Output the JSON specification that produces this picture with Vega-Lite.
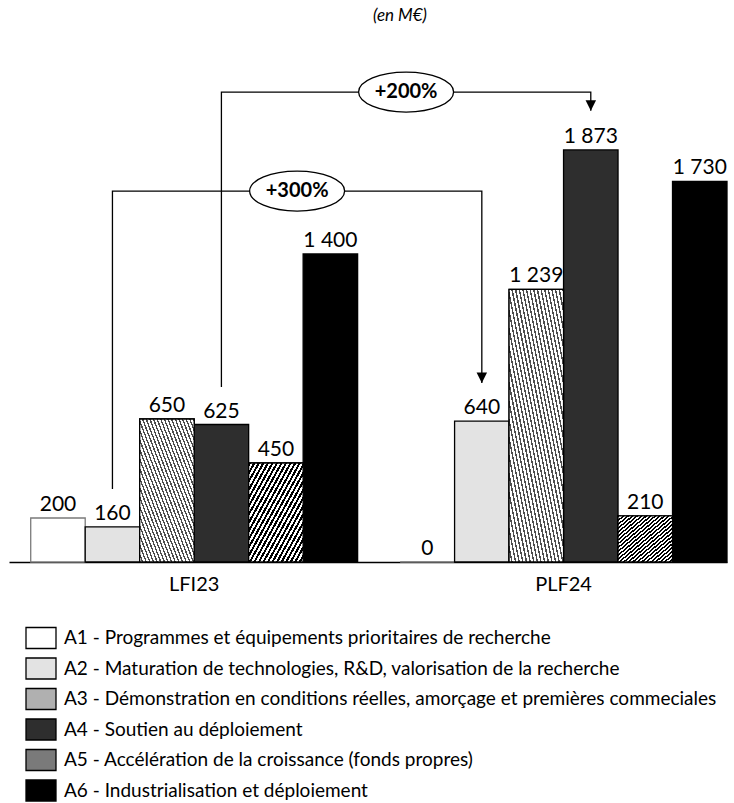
{
  "$schema": "https://vega.github.io/schema/vega-lite/v6.json",
  "autosize": {"type": "none"},
  "width": 718,
  "height": 528,
  "padding": {"left": 9, "top": 34, "right": 7, "bottom": 241},
  "background": "#ffffff",
  "title": {
    "text": "(en M€)",
    "font": "Lato",
    "fontSize": 17,
    "fontStyle": "italic",
    "fontWeight": "normal",
    "color": "#000000",
    "anchor": "middle",
    "dx": 32,
    "offset": 9
  },
  "datasets": {
    "bars": [
      {"group": "LFI23", "action": "A1 - Programmes et équipements prioritaires de recherche", "value": 200},
      {"group": "LFI23", "action": "A2 - Maturation de technologies, R&D, valorisation de la recherche", "value": 160},
      {"group": "LFI23", "action": "A3 - Démonstration en conditions réelles, amorçage et premières commeciales", "value": 650},
      {"group": "LFI23", "action": "A4 - Soutien au déploiement", "value": 625},
      {"group": "LFI23", "action": "A5 - Accélération de la croissance (fonds propres)", "value": 450},
      {"group": "LFI23", "action": "A6 - Industrialisation et déploiement", "value": 1400},
      {"group": "PLF24", "action": "A1 - Programmes et équipements prioritaires de recherche", "value": 0},
      {"group": "PLF24", "action": "A2 - Maturation de technologies, R&D, valorisation de la recherche", "value": 640},
      {"group": "PLF24", "action": "A3 - Démonstration en conditions réelles, amorçage et premières commeciales", "value": 1239},
      {"group": "PLF24", "action": "A4 - Soutien au déploiement", "value": 1873},
      {"group": "PLF24", "action": "A5 - Accélération de la croissance (fonds propres)", "value": 210},
      {"group": "PLF24", "action": "A6 - Industrialisation et déploiement", "value": 1730}
    ],
    "connectors": [
      {"link": "A2", "step": 1, "group": "LFI23", "action": "A2 - Maturation de technologies, R&D, valorisation de la recherche", "level": 332},
      {"link": "A2", "step": 2, "group": "LFI23", "action": "A2 - Maturation de technologies, R&D, valorisation de la recherche", "level": 1686},
      {"link": "A2", "step": 3, "group": "PLF24", "action": "A2 - Maturation de technologies, R&D, valorisation de la recherche", "level": 1686},
      {"link": "A2", "step": 4, "group": "PLF24", "action": "A2 - Maturation de technologies, R&D, valorisation de la recherche", "level": 814},
      {"link": "A4", "step": 1, "group": "LFI23", "action": "A4 - Soutien au déploiement", "level": 795},
      {"link": "A4", "step": 2, "group": "LFI23", "action": "A4 - Soutien au déploiement", "level": 2136},
      {"link": "A4", "step": 3, "group": "PLF24", "action": "A4 - Soutien au déploiement", "level": 2136},
      {"link": "A4", "step": 4, "group": "PLF24", "action": "A4 - Soutien au déploiement", "level": 2051}
    ],
    "arrows": [
      {"group": "PLF24", "action": "A2 - Maturation de technologies, R&D, valorisation de la recherche", "level": 814},
      {"group": "PLF24", "action": "A4 - Soutien au déploiement", "level": 2051}
    ],
    "growth": [
      {"group": "LFI23", "action": "A2 - Maturation de technologies, R&D, valorisation de la recherche", "level": 1686, "label": "+300%"},
      {"group": "LFI23", "action": "A4 - Soutien au déploiement", "level": 2136, "label": "+200%"}
    ]
  },
  "encoding": {
    "x": {
      "field": "group",
      "type": "nominal",
      "sort": ["LFI23", "PLF24"],
      "scale": {"paddingInner": 0.115, "paddingOuter": 0.0294, "align": 1},
      "axis": {
        "title": null,
        "labelAngle": 0,
        "labelFont": "Lato",
        "labelFontSize": 20,
        "labelColor": "#000000",
        "labelPadding": 12,
        "ticks": false,
        "domainColor": "#000000",
        "domainWidth": 1.3
      }
    }
  },
  "layer": [
    {
      "data": {"name": "bars"},
      "mark": {"type": "bar", "strokeWidth": 1.3},
      "encoding": {
        "xOffset": {"field": "action", "type": "nominal", "sort": null},
        "y": {"field": "value", "type": "quantitative", "scale": {"domain": [0, 2400], "nice": false}, "axis": null},
        "fill": {
          "field": "action",
          "type": "nominal",
          "sort": null,
          "scale": {"range": ["#ffffff", "#e3e3e3", "#b0b0b0", "#2e2e2e", "#7a7a7a", "#000000"]},
          "legend": {
            "title": null,
            "orient": "none",
            "legendX": 16,
            "legendY": 588,
            "direction": "vertical",
            "symbolType": "M -1 -0.7 H 1 V 0.7 H -1 Z",
            "symbolSize": 900,
            "symbolStrokeColor": "#000000",
            "symbolStrokeWidth": 1.3,
            "labelFont": "Lato",
            "labelFontSize": 19,
            "labelColor": "#000000",
            "labelLimit": 0,
            "labelOffset": 7,
            "rowPadding": 0.5,
            "encode": {
              "symbols": {
                "update": {
                  "stroke": {"value": "#000000"},
                  "strokeWidth": {"value": 1.3}
                }
              }
            }
          }
        },
        "stroke": {
          "condition": {"test": "indexof(datum.action, 'A1') === 0", "value": "#7a7a7a"},
          "value": "#000000"
        }
      }
    },
    {
      "data": {"name": "bars"},
      "transform": [{"filter": "indexof(datum.action, 'A3') === 0"}],
      "mark": {
        "type": "bar",
        "stroke": "#000000",
        "strokeWidth": 1.3,
        "fill": {
          "gradient": "linear", "x1": 1, "y1": 0, "x2": 0, "y2": 1,
          "stops": [
            {"offset": 0, "color": "#4d4d4d"}, {"offset": 0.0133, "color": "#4d4d4d"}, {"offset": 0.0133, "color": "#ffffff"}, {"offset": 0.0333, "color": "#ffffff"},
            {"offset": 0.0333, "color": "#4d4d4d"}, {"offset": 0.0467, "color": "#4d4d4d"}, {"offset": 0.0467, "color": "#ffffff"}, {"offset": 0.0667, "color": "#ffffff"},
            {"offset": 0.0667, "color": "#4d4d4d"}, {"offset": 0.08, "color": "#4d4d4d"}, {"offset": 0.08, "color": "#ffffff"}, {"offset": 0.1, "color": "#ffffff"},
            {"offset": 0.1, "color": "#4d4d4d"}, {"offset": 0.1133, "color": "#4d4d4d"}, {"offset": 0.1133, "color": "#ffffff"}, {"offset": 0.1333, "color": "#ffffff"},
            {"offset": 0.1333, "color": "#4d4d4d"}, {"offset": 0.1467, "color": "#4d4d4d"}, {"offset": 0.1467, "color": "#ffffff"}, {"offset": 0.1667, "color": "#ffffff"},
            {"offset": 0.1667, "color": "#4d4d4d"}, {"offset": 0.18, "color": "#4d4d4d"}, {"offset": 0.18, "color": "#ffffff"}, {"offset": 0.2, "color": "#ffffff"},
            {"offset": 0.2, "color": "#4d4d4d"}, {"offset": 0.2133, "color": "#4d4d4d"}, {"offset": 0.2133, "color": "#ffffff"}, {"offset": 0.2333, "color": "#ffffff"},
            {"offset": 0.2333, "color": "#4d4d4d"}, {"offset": 0.2467, "color": "#4d4d4d"}, {"offset": 0.2467, "color": "#ffffff"}, {"offset": 0.2667, "color": "#ffffff"},
            {"offset": 0.2667, "color": "#4d4d4d"}, {"offset": 0.28, "color": "#4d4d4d"}, {"offset": 0.28, "color": "#ffffff"}, {"offset": 0.3, "color": "#ffffff"},
            {"offset": 0.3, "color": "#4d4d4d"}, {"offset": 0.3133, "color": "#4d4d4d"}, {"offset": 0.3133, "color": "#ffffff"}, {"offset": 0.3333, "color": "#ffffff"},
            {"offset": 0.3333, "color": "#4d4d4d"}, {"offset": 0.3467, "color": "#4d4d4d"}, {"offset": 0.3467, "color": "#ffffff"}, {"offset": 0.3667, "color": "#ffffff"},
            {"offset": 0.3667, "color": "#4d4d4d"}, {"offset": 0.38, "color": "#4d4d4d"}, {"offset": 0.38, "color": "#ffffff"}, {"offset": 0.4, "color": "#ffffff"},
            {"offset": 0.4, "color": "#4d4d4d"}, {"offset": 0.4133, "color": "#4d4d4d"}, {"offset": 0.4133, "color": "#ffffff"}, {"offset": 0.4333, "color": "#ffffff"},
            {"offset": 0.4333, "color": "#4d4d4d"}, {"offset": 0.4467, "color": "#4d4d4d"}, {"offset": 0.4467, "color": "#ffffff"}, {"offset": 0.4667, "color": "#ffffff"},
            {"offset": 0.4667, "color": "#4d4d4d"}, {"offset": 0.48, "color": "#4d4d4d"}, {"offset": 0.48, "color": "#ffffff"}, {"offset": 0.5, "color": "#ffffff"},
            {"offset": 0.5, "color": "#4d4d4d"}, {"offset": 0.5133, "color": "#4d4d4d"}, {"offset": 0.5133, "color": "#ffffff"}, {"offset": 0.5333, "color": "#ffffff"},
            {"offset": 0.5333, "color": "#4d4d4d"}, {"offset": 0.5467, "color": "#4d4d4d"}, {"offset": 0.5467, "color": "#ffffff"}, {"offset": 0.5667, "color": "#ffffff"},
            {"offset": 0.5667, "color": "#4d4d4d"}, {"offset": 0.58, "color": "#4d4d4d"}, {"offset": 0.58, "color": "#ffffff"}, {"offset": 0.6, "color": "#ffffff"},
            {"offset": 0.6, "color": "#4d4d4d"}, {"offset": 0.6133, "color": "#4d4d4d"}, {"offset": 0.6133, "color": "#ffffff"}, {"offset": 0.6333, "color": "#ffffff"},
            {"offset": 0.6333, "color": "#4d4d4d"}, {"offset": 0.6467, "color": "#4d4d4d"}, {"offset": 0.6467, "color": "#ffffff"}, {"offset": 0.6667, "color": "#ffffff"},
            {"offset": 0.6667, "color": "#4d4d4d"}, {"offset": 0.68, "color": "#4d4d4d"}, {"offset": 0.68, "color": "#ffffff"}, {"offset": 0.7, "color": "#ffffff"},
            {"offset": 0.7, "color": "#4d4d4d"}, {"offset": 0.7133, "color": "#4d4d4d"}, {"offset": 0.7133, "color": "#ffffff"}, {"offset": 0.7333, "color": "#ffffff"},
            {"offset": 0.7333, "color": "#4d4d4d"}, {"offset": 0.7467, "color": "#4d4d4d"}, {"offset": 0.7467, "color": "#ffffff"}, {"offset": 0.7667, "color": "#ffffff"},
            {"offset": 0.7667, "color": "#4d4d4d"}, {"offset": 0.78, "color": "#4d4d4d"}, {"offset": 0.78, "color": "#ffffff"}, {"offset": 0.8, "color": "#ffffff"},
            {"offset": 0.8, "color": "#4d4d4d"}, {"offset": 0.8133, "color": "#4d4d4d"}, {"offset": 0.8133, "color": "#ffffff"}, {"offset": 0.8333, "color": "#ffffff"},
            {"offset": 0.8333, "color": "#4d4d4d"}, {"offset": 0.8467, "color": "#4d4d4d"}, {"offset": 0.8467, "color": "#ffffff"}, {"offset": 0.8667, "color": "#ffffff"},
            {"offset": 0.8667, "color": "#4d4d4d"}, {"offset": 0.88, "color": "#4d4d4d"}, {"offset": 0.88, "color": "#ffffff"}, {"offset": 0.9, "color": "#ffffff"},
            {"offset": 0.9, "color": "#4d4d4d"}, {"offset": 0.9133, "color": "#4d4d4d"}, {"offset": 0.9133, "color": "#ffffff"}, {"offset": 0.9333, "color": "#ffffff"},
            {"offset": 0.9333, "color": "#4d4d4d"}, {"offset": 0.9467, "color": "#4d4d4d"}, {"offset": 0.9467, "color": "#ffffff"}, {"offset": 0.9667, "color": "#ffffff"},
            {"offset": 0.9667, "color": "#4d4d4d"}, {"offset": 0.98, "color": "#4d4d4d"}, {"offset": 0.98, "color": "#ffffff"}, {"offset": 1, "color": "#ffffff"}
          ]
        }
      },
      "encoding": {
        "xOffset": {"field": "action", "type": "nominal", "sort": null},
        "y": {"field": "value", "type": "quantitative"}
      }
    },
    {
      "data": {"name": "bars"},
      "transform": [{"filter": "indexof(datum.action, 'A5') === 0"}],
      "mark": {
        "type": "bar",
        "stroke": "#000000",
        "strokeWidth": 1.3,
        "fill": {
          "gradient": "linear", "x1": 0, "y1": 0, "x2": 1, "y2": 1,
          "stops": [
            {"offset": 0, "color": "#000000"}, {"offset": 0.0208, "color": "#000000"}, {"offset": 0.0208, "color": "#ffffff"}, {"offset": 0.0417, "color": "#ffffff"},
            {"offset": 0.0417, "color": "#000000"}, {"offset": 0.0625, "color": "#000000"}, {"offset": 0.0625, "color": "#ffffff"}, {"offset": 0.0833, "color": "#ffffff"},
            {"offset": 0.0833, "color": "#000000"}, {"offset": 0.1042, "color": "#000000"}, {"offset": 0.1042, "color": "#ffffff"}, {"offset": 0.125, "color": "#ffffff"},
            {"offset": 0.125, "color": "#000000"}, {"offset": 0.1458, "color": "#000000"}, {"offset": 0.1458, "color": "#ffffff"}, {"offset": 0.1667, "color": "#ffffff"},
            {"offset": 0.1667, "color": "#000000"}, {"offset": 0.1875, "color": "#000000"}, {"offset": 0.1875, "color": "#ffffff"}, {"offset": 0.2083, "color": "#ffffff"},
            {"offset": 0.2083, "color": "#000000"}, {"offset": 0.2292, "color": "#000000"}, {"offset": 0.2292, "color": "#ffffff"}, {"offset": 0.25, "color": "#ffffff"},
            {"offset": 0.25, "color": "#000000"}, {"offset": 0.2708, "color": "#000000"}, {"offset": 0.2708, "color": "#ffffff"}, {"offset": 0.2917, "color": "#ffffff"},
            {"offset": 0.2917, "color": "#000000"}, {"offset": 0.3125, "color": "#000000"}, {"offset": 0.3125, "color": "#ffffff"}, {"offset": 0.3333, "color": "#ffffff"},
            {"offset": 0.3333, "color": "#000000"}, {"offset": 0.3542, "color": "#000000"}, {"offset": 0.3542, "color": "#ffffff"}, {"offset": 0.375, "color": "#ffffff"},
            {"offset": 0.375, "color": "#000000"}, {"offset": 0.3958, "color": "#000000"}, {"offset": 0.3958, "color": "#ffffff"}, {"offset": 0.4167, "color": "#ffffff"},
            {"offset": 0.4167, "color": "#000000"}, {"offset": 0.4375, "color": "#000000"}, {"offset": 0.4375, "color": "#ffffff"}, {"offset": 0.4583, "color": "#ffffff"},
            {"offset": 0.4583, "color": "#000000"}, {"offset": 0.4792, "color": "#000000"}, {"offset": 0.4792, "color": "#ffffff"}, {"offset": 0.5, "color": "#ffffff"},
            {"offset": 0.5, "color": "#000000"}, {"offset": 0.5208, "color": "#000000"}, {"offset": 0.5208, "color": "#ffffff"}, {"offset": 0.5417, "color": "#ffffff"},
            {"offset": 0.5417, "color": "#000000"}, {"offset": 0.5625, "color": "#000000"}, {"offset": 0.5625, "color": "#ffffff"}, {"offset": 0.5833, "color": "#ffffff"},
            {"offset": 0.5833, "color": "#000000"}, {"offset": 0.6042, "color": "#000000"}, {"offset": 0.6042, "color": "#ffffff"}, {"offset": 0.625, "color": "#ffffff"},
            {"offset": 0.625, "color": "#000000"}, {"offset": 0.6458, "color": "#000000"}, {"offset": 0.6458, "color": "#ffffff"}, {"offset": 0.6667, "color": "#ffffff"},
            {"offset": 0.6667, "color": "#000000"}, {"offset": 0.6875, "color": "#000000"}, {"offset": 0.6875, "color": "#ffffff"}, {"offset": 0.7083, "color": "#ffffff"},
            {"offset": 0.7083, "color": "#000000"}, {"offset": 0.7292, "color": "#000000"}, {"offset": 0.7292, "color": "#ffffff"}, {"offset": 0.75, "color": "#ffffff"},
            {"offset": 0.75, "color": "#000000"}, {"offset": 0.7708, "color": "#000000"}, {"offset": 0.7708, "color": "#ffffff"}, {"offset": 0.7917, "color": "#ffffff"},
            {"offset": 0.7917, "color": "#000000"}, {"offset": 0.8125, "color": "#000000"}, {"offset": 0.8125, "color": "#ffffff"}, {"offset": 0.8333, "color": "#ffffff"},
            {"offset": 0.8333, "color": "#000000"}, {"offset": 0.8542, "color": "#000000"}, {"offset": 0.8542, "color": "#ffffff"}, {"offset": 0.875, "color": "#ffffff"},
            {"offset": 0.875, "color": "#000000"}, {"offset": 0.8958, "color": "#000000"}, {"offset": 0.8958, "color": "#ffffff"}, {"offset": 0.9167, "color": "#ffffff"},
            {"offset": 0.9167, "color": "#000000"}, {"offset": 0.9375, "color": "#000000"}, {"offset": 0.9375, "color": "#ffffff"}, {"offset": 0.9583, "color": "#ffffff"},
            {"offset": 0.9583, "color": "#000000"}, {"offset": 0.9792, "color": "#000000"}, {"offset": 0.9792, "color": "#ffffff"}, {"offset": 1, "color": "#ffffff"}
          ]
        }
      },
      "encoding": {
        "xOffset": {"field": "action", "type": "nominal", "sort": null},
        "y": {"field": "value", "type": "quantitative"}
      }
    },
    {
      "data": {"name": "bars"},
      "mark": {"type": "text", "font": "Lato", "fontSize": 21, "color": "#000000", "baseline": "alphabetic", "dy": -7},
      "encoding": {
        "xOffset": {"field": "action", "type": "nominal", "sort": null},
        "y": {"field": "value", "type": "quantitative"},
        "text": {"field": "value", "type": "quantitative", "format": ",.0f"}
      }
    },
    {
      "data": {"name": "connectors"},
      "mark": {"type": "line", "color": "#000000", "strokeWidth": 1.3, "interpolate": "linear"},
      "encoding": {
        "xOffset": {"field": "action", "type": "nominal", "sort": null},
        "y": {"field": "level", "type": "quantitative"},
        "detail": {"field": "link", "type": "nominal"},
        "order": {"field": "step", "type": "quantitative"}
      }
    },
    {
      "data": {"name": "arrows"},
      "mark": {"type": "point", "shape": "M 0 0 L -1 -2 L 1 -2 Z", "size": 110, "filled": true, "color": "#000000", "opacity": 1},
      "encoding": {
        "xOffset": {"field": "action", "type": "nominal", "sort": null},
        "y": {"field": "level", "type": "quantitative"}
      }
    },
    {
      "data": {"name": "growth"},
      "mark": {
        "type": "point",
        "shape": "M 2.888 0 C 2.888 -0.232 3.336 -0.42 3.888 -0.42 C 4.44 -0.42 4.888 -0.232 4.888 0 C 4.888 0.232 4.44 0.42 3.888 0.42 C 3.336 0.42 2.888 0.232 2.888 0 Z",
        "size": 9025,
        "filled": true,
        "fill": "#ffffff",
        "stroke": "#000000",
        "strokeWidth": 1.3,
        "opacity": 1
      },
      "encoding": {
        "xOffset": {"field": "action", "type": "nominal", "sort": null},
        "y": {"field": "level", "type": "quantitative"}
      }
    },
    {
      "data": {"name": "growth"},
      "mark": {"type": "text", "font": "Lato", "fontSize": 20, "fontWeight": "bold", "color": "#000000", "baseline": "middle", "dx": 184.7},
      "encoding": {
        "xOffset": {"field": "action", "type": "nominal", "sort": null},
        "y": {"field": "level", "type": "quantitative"},
        "text": {"field": "label", "type": "nominal"}
      }
    }
  ],
  "config": {
    "view": {"stroke": null},
    "locale": {
      "number": {"decimal": ",", "thousands": " ", "grouping": [3], "currency": ["", " €"]}
    }
  }
}
